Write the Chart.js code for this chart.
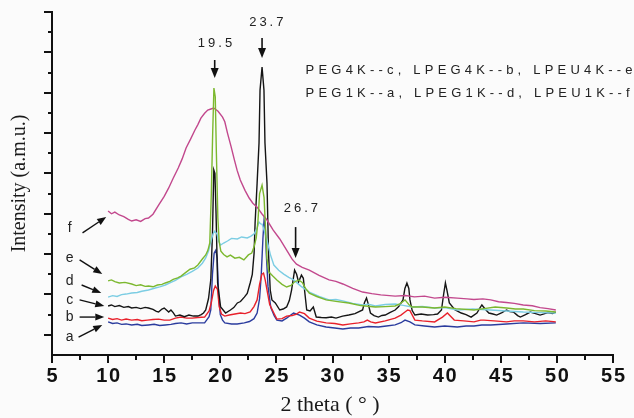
<!DOCTYPE html>
<html><head><meta charset="utf-8">
<script src="https://cdn.jsdelivr.net/npm/chart.js@4.4.1/dist/chart.umd.min.js"></script>
<style>html,body{margin:0;padding:0;background:#fbfbfb;}canvas{display:block;}</style>
</head><body>
<canvas id="c" width="634" height="418"></canvas>
<script>
// ---- axis ranges / ticks ----
const X_MIN = 5, X_MAX = 55, X_STEP = 5, X_MINOR = 2.5;
const Y_MIN = 0, Y_MAX = 170, Y_STEP = 10;

// ---- series data: [2theta, intensity] ----
const seriesF = [[10.0,71.4],[10.3,70.0],[10.6,70.8],[11.0,69.4],[11.4,68.6],[11.8,67.2],[12.1,66.4],[12.5,67.0],[12.9,66.2],[13.3,67.6],[13.6,67.9],[14.0,69.8],[14.5,74.3],[15.0,78.6],[15.4,82.8],[15.8,87.6],[16.25,92.7],[16.6,97.2],[16.95,102.6],[17.35,107.0],[17.74,111.5],[18.0,114.2],[18.27,117.4],[18.6,119.8],[18.88,121.4],[19.1,121.8],[19.41,122.4],[19.8,120.8],[20.2,117.9],[20.4,115.6],[20.64,110.0],[20.95,103.5],[21.26,96.6],[21.5,91.5],[21.78,86.7],[22.2,81.6],[22.57,77.8],[22.9,75.2],[23.28,73.3],[23.7,70.0],[24.16,66.9],[24.7,62.0],[25.3,57.5],[25.91,52.0],[26.4,47.5],[26.79,45.0],[27.3,43.4],[27.93,42.1],[28.8,39.5],[29.69,37.2],[30.3,36.5],[30.92,35.2],[31.8,33.0],[32.68,31.2],[33.5,30.4],[34.3,29.8],[35.58,29.2],[36.5,29.5],[37.3,28.8],[38.2,29.2],[39.1,28.2],[40.0,28.6],[41.12,28.2],[42.0,27.8],[42.6,27.5],[43.4,27.8],[44.1,27.3],[44.8,26.4],[45.5,26.0],[46.2,25.6],[47.0,24.8],[47.8,24.4],[48.5,23.5],[49.2,23.0],[49.9,22.3]];
const seriesE = [[10.0,36.7],[10.3,37.2],[10.6,36.4],[11.0,35.7],[11.5,36.0],[12.1,35.2],[12.5,34.4],[12.9,34.8],[13.3,34.0],[13.6,34.2],[14.0,33.8],[14.4,34.7],[14.8,35.0],[15.1,35.7],[15.5,36.5],[15.8,37.5],[16.2,38.2],[16.5,39.1],[16.9,40.8],[17.3,42.5],[17.7,43.2],[18.0,44.6],[18.4,47.6],[18.7,49.6],[18.9,52.0],[19.06,55.5],[19.2,80.0],[19.32,110.0],[19.43,132.3],[19.55,128.0],[19.65,100.0],[19.78,68.0],[19.9,56.0],[20.05,51.5],[20.3,49.8],[20.6,48.6],[20.9,49.5],[21.3,48.0],[21.7,48.4],[22.1,47.1],[22.5,49.6],[22.8,50.5],[23.0,53.5],[23.2,58.0],[23.35,66.0],[23.5,80.0],[23.72,84.2],[23.9,78.0],[24.0,66.0],[24.15,48.0],[24.33,41.1],[24.7,39.0],[25.04,37.2],[25.5,35.0],[25.91,33.7],[26.3,34.5],[26.6,36.2],[27.0,37.2],[27.3,36.0],[27.6,33.0],[27.93,30.7],[28.6,29.0],[29.43,27.3],[30.3,26.6],[31.45,25.8],[32.5,24.5],[33.82,23.8],[34.7,24.0],[35.58,24.3],[36.0,25.3],[36.46,27.3],[36.8,25.0],[37.07,23.8],[38.0,23.8],[39.1,23.3],[40.0,23.8],[41.0,23.0],[42.61,22.3],[43.5,23.0],[44.5,23.8],[45.51,23.3],[46.3,22.8],[47.0,22.8],[48.0,22.0],[49.0,21.8],[49.9,21.3]];
const seriesD = [[10.0,28.7],[10.4,29.4],[10.8,29.0],[11.2,29.9],[11.6,30.2],[12.1,30.7],[12.6,31.0],[13.0,31.6],[13.6,32.2],[14.2,33.2],[14.6,33.8],[15.1,34.7],[15.6,36.0],[16.0,37.0],[16.5,38.7],[17.0,40.0],[17.5,41.5],[18.0,43.1],[18.4,45.5],[18.7,48.1],[18.95,51.5],[19.15,56.0],[19.35,60.0],[19.5,61.4],[19.7,60.0],[19.85,56.5],[20.03,54.5],[20.3,55.5],[20.64,56.5],[21.0,57.8],[21.52,57.5],[21.9,58.5],[22.4,58.0],[22.7,58.8],[23.01,60.0],[23.25,62.5],[23.45,65.9],[23.6,65.0],[23.72,64.9],[23.9,62.0],[24.16,57.0],[24.45,50.0],[24.77,44.6],[25.2,42.0],[25.65,40.1],[26.1,38.5],[26.53,37.2],[27.2,34.0],[27.93,31.2],[28.8,29.0],[29.69,27.3],[30.3,27.5],[30.92,26.8],[31.8,25.6],[32.68,24.8],[33.2,25.2],[33.82,24.3],[34.7,25.0],[35.58,25.3],[36.3,24.6],[37.07,23.8],[38.0,24.0],[39.1,23.3],[40.0,23.5],[41.12,22.3],[42.5,22.8],[44.1,22.3],[45.5,21.8],[47.0,21.3],[48.5,21.0],[49.9,20.8]];
const seriesC = [[10.0,24.3],[10.3,24.8],[10.6,24.0],[11.0,24.5],[11.4,23.6],[11.8,24.0],[12.1,23.3],[12.5,23.6],[12.9,23.0],[13.3,23.6],[13.6,23.3],[14.0,22.6],[14.3,21.6],[14.5,21.3],[14.8,22.8],[15.0,23.3],[15.2,22.3],[15.4,21.3],[15.6,22.3],[15.8,21.0],[16.0,19.3],[16.4,19.8],[16.8,19.0],[17.2,19.8],[17.6,19.3],[18.0,19.3],[18.3,20.0],[18.5,20.8],[18.7,22.3],[18.95,28.0],[19.15,37.2],[19.3,60.0],[19.42,91.7],[19.52,90.0],[19.62,70.0],[19.76,35.7],[20.03,23.8],[20.47,20.8],[20.9,22.3],[21.2,23.5],[21.52,25.8],[21.8,26.5],[22.14,28.7],[22.4,30.5],[22.66,35.7],[22.85,40.0],[23.01,50.5],[23.1,65.4],[23.28,85.2],[23.45,105.1],[23.54,131.3],[23.72,142.7],[23.89,131.3],[23.98,105.1],[24.16,85.2],[24.3,50.0],[24.45,32.2],[24.6,27.3],[24.9,25.8],[25.3,22.3],[25.6,22.8],[25.91,23.8],[26.15,27.0],[26.35,32.2],[26.62,42.1],[26.8,40.0],[26.97,36.2],[27.23,39.6],[27.4,38.0],[27.55,30.0],[27.7,22.3],[28.0,21.8],[28.29,23.8],[28.55,18.8],[29.0,18.6],[29.43,18.5],[29.9,18.8],[30.31,18.3],[30.9,19.3],[31.45,19.8],[32.0,20.5],[32.68,22.3],[32.85,26.0],[33.03,28.2],[33.2,25.0],[33.38,20.8],[33.7,19.5],[34.09,18.8],[34.4,19.6],[34.7,19.8],[35.1,21.0],[35.58,22.3],[35.9,24.0],[36.28,27.3],[36.45,33.0],[36.63,35.7],[36.8,33.0],[36.9,27.3],[37.1,22.0],[37.34,19.8],[37.9,20.3],[38.48,19.8],[39.0,20.0],[39.36,20.3],[39.71,22.3],[39.9,30.0],[40.06,35.7],[40.2,32.0],[40.41,25.8],[40.9,22.5],[41.47,20.8],[41.9,20.0],[42.35,18.8],[42.87,20.8],[43.1,23.0],[43.31,24.8],[43.6,22.8],[43.93,20.8],[44.3,20.3],[44.63,19.8],[45.1,21.0],[45.51,22.3],[45.8,21.5],[46.12,21.3],[46.5,19.5],[46.74,18.8],[47.2,20.0],[47.62,21.3],[48.1,20.5],[48.5,19.8],[49.2,21.0],[49.6,20.5],[49.9,21.3]];
const seriesB = [[10.0,18.3],[10.4,17.6],[10.8,18.0],[11.2,17.3],[11.6,17.8],[12.1,17.3],[12.6,17.6],[13.0,17.0],[13.5,17.3],[14.0,17.6],[14.5,17.8],[15.0,17.3],[15.5,17.3],[16.0,18.3],[16.5,18.8],[17.0,18.3],[17.5,18.3],[18.0,18.6],[18.6,18.8],[19.0,21.8],[19.2,26.0],[19.4,32.0],[19.55,34.2],[19.75,32.5],[19.9,24.0],[20.1,20.3],[20.4,19.3],[20.8,19.8],[21.3,20.3],[21.8,20.8],[22.2,20.5],[22.66,21.3],[23.0,24.0],[23.28,27.3],[23.5,35.0],[23.7,40.0],[23.85,40.6],[24.0,37.2],[24.2,31.0],[24.4,25.0],[24.77,20.8],[25.04,17.8],[25.5,18.0],[25.91,19.3],[26.4,19.6],[26.79,20.3],[27.06,21.3],[27.5,20.5],[27.93,18.3],[28.6,16.8],[29.43,15.9],[30.2,15.6],[30.92,14.9],[31.6,15.4],[32.33,15.9],[32.8,16.4],[33.1,17.3],[33.4,16.4],[33.82,15.9],[34.7,16.9],[35.58,18.3],[36.1,19.8],[36.46,21.3],[36.7,22.3],[36.9,22.0],[37.34,17.3],[38.0,16.9],[39.1,16.4],[39.36,17.3],[39.8,18.8],[40.24,20.8],[40.5,19.3],[40.85,17.3],[41.7,16.9],[42.61,16.4],[43.2,17.3],[43.49,17.3],[44.4,16.9],[45.51,16.4],[46.2,16.9],[47.0,16.9],[48.0,16.4],[49.0,16.9],[49.9,16.4]];
const seriesA = [[10.0,16.4],[10.4,15.6],[10.8,15.9],[11.2,15.2],[11.6,15.4],[12.1,14.9],[12.6,15.2],[13.0,14.6],[13.6,14.9],[14.1,15.2],[14.6,14.6],[15.1,14.9],[15.6,15.2],[16.0,15.6],[16.5,15.9],[17.0,15.4],[17.5,15.9],[18.0,15.9],[18.6,15.9],[19.0,19.0],[19.15,22.3],[19.3,40.0],[19.45,50.5],[19.6,52.0],[19.72,48.0],[19.85,30.0],[20.0,20.0],[20.2,17.3],[20.4,15.9],[21.0,15.4],[21.5,15.4],[22.14,15.9],[22.6,16.6],[23.0,18.0],[23.28,20.8],[23.5,28.0],[23.65,40.0],[23.8,58.0],[23.9,66.9],[24.0,64.0],[24.1,50.0],[24.25,34.0],[24.5,23.5],[24.8,19.5],[25.04,17.3],[25.5,16.9],[25.91,18.3],[26.53,20.8],[27.06,19.8],[27.5,18.3],[27.93,16.4],[28.6,14.9],[29.43,13.9],[30.2,13.4],[30.92,12.9],[31.6,13.4],[32.33,13.4],[33.2,14.1],[34.09,13.9],[34.8,14.4],[35.58,14.9],[36.1,16.0],[36.46,17.3],[36.9,16.4],[37.34,14.9],[38.2,14.4],[39.1,13.9],[40.0,14.4],[41.12,13.9],[41.9,14.4],[42.61,14.4],[43.3,14.9],[44.1,14.9],[45.5,15.4],[47.0,15.9],[48.5,15.6],[49.9,15.9]];

// ---- texts ----
const xTitle = '2 theta ( \u00b0 )';
const yTitle = 'Intensity (a.m.u.)';
const legendLines = ['PEG4K--c, LPEG4K--b, LPEU4K--e', 'PEG1K--a, LPEG1K--d, LPEU1K--f'];
const peakLabels = ['19.5', '23.7', '26.7'];
const curveLetters = ['f', 'e', 'd', 'c', 'b', 'a'];

// ---- annotation placement (data units) ----
const peakLabelPos = [[18.0,154.6],[22.57,165.0],[25.65,72.8]];
const peakArrows = [[19.5,146.2,137.3],[23.72,157.1,147.2],[26.71,63.4,48.1]];
const legendPos = [[27.6,141.2],[27.6,129.8]];
const letterPos = [[6.58,62.9],[6.58,48.1],[6.58,36.7],[6.58,27.3],[6.58,18.8],[6.58,8.9]];
const letterArrows = [[7.72,60.5,9.83,68.4],[7.46,47.1,9.48,40.1],[7.64,34.7,9.39,30.7],[7.46,27.3,9.66,24.3],[7.46,18.8,9.66,18.8],[7.37,8.9,9.48,14.9]];

const toXY = s => s.map(p => ({x: p[0], y: p[1]}));

function arrow(ctx, x1, y1, x2, y2, head, half) {
  const a = Math.atan2(y2 - y1, x2 - x1);
  const bx = x2 - head * Math.cos(a), by = y2 - head * Math.sin(a);
  ctx.beginPath(); ctx.moveTo(x1, y1); ctx.lineTo(bx, by); ctx.stroke();
  ctx.beginPath();
  ctx.moveTo(x2, y2);
  ctx.lineTo(bx + half * Math.sin(a), by - half * Math.cos(a));
  ctx.lineTo(bx - half * Math.sin(a), by + half * Math.cos(a));
  ctx.closePath(); ctx.fill();
}

const decor = {
  id: 'decor',
  beforeDraw(chart) {
    const c = chart.ctx; c.save(); c.fillStyle = '#fbfbfb'; c.fillRect(0, 0, chart.width, chart.height); c.restore();
  },
  afterDraw(chart) {
    const {ctx, scales: {x, y}} = chart;
    const X = v => x.getPixelForValue(v), Y = v => y.getPixelForValue(v);
    ctx.save();
    ctx.strokeStyle = '#111'; ctx.fillStyle = '#111'; ctx.lineWidth = 2;
    for (let v = X_MIN; v <= X_MAX + 1e-9; v += X_MINOR) {
      const p = Math.round(X(v));
      const L = (Math.abs(v % X_STEP) < 1e-9) ? 8 : 5;
      ctx.beginPath(); ctx.moveTo(p, y.bottom); ctx.lineTo(p, y.bottom + L); ctx.stroke();
    }
    for (let v = Y_MIN + Y_STEP; v <= Y_MAX + 1e-9; v += Y_STEP) {
      const p = Math.round(Y(v));
      const L = (Math.round(v / Y_STEP) % 2 === 1) ? 8 : 4;
      ctx.beginPath(); ctx.moveTo(x.left - L, p); ctx.lineTo(x.left, p); ctx.stroke();
    }
    ctx.fillStyle = '#1a1a1a';
    ctx.font = '20px "Liberation Serif", "Times New Roman", serif';
    ctx.textAlign = 'center'; ctx.textBaseline = 'middle';
    ctx.save(); ctx.translate(20, (y.top + y.bottom) / 2); ctx.rotate(-Math.PI / 2); ctx.fillText(yTitle, 0, 0); ctx.restore();
    ctx.font = '22px "Liberation Serif", "Times New Roman", serif';
    ctx.fillText(xTitle, 330, 405);
    ctx.font = '13px "Liberation Sans", Arial, sans-serif';
    ctx.textAlign = 'left';
    ctx.letterSpacing = '3px';
    ctx.fillStyle = '#222';
    peakLabels.forEach((t, i) => ctx.fillText(t, X(peakLabelPos[i][0]), Y(peakLabelPos[i][1])));
    ctx.lineWidth = 1.6; ctx.fillStyle = '#111';
    peakArrows.forEach(a => arrow(ctx, X(a[0]), Y(a[1]), X(a[0]), Y(a[2]), 10, 4));
    ctx.letterSpacing = '4.2px'; ctx.fillStyle = '#222';
    legendLines.forEach((t, i) => ctx.fillText(t, X(legendPos[i][0]), Y(legendPos[i][1])));
    ctx.letterSpacing = '0px';
    ctx.font = '14px "Liberation Sans", Arial, sans-serif';
    ctx.textAlign = 'center';
    curveLetters.forEach((t, i) => ctx.fillText(t, X(letterPos[i][0]), Y(letterPos[i][1])));
    ctx.lineWidth = 1.4; ctx.fillStyle = '#111';
    letterArrows.forEach(a => arrow(ctx, X(a[0]), Y(a[1]), X(a[2]), Y(a[3]), 9, 3.5));
    ctx.restore();
  }
};

const mk = (label, data, color) => ({label, data: toXY(data), borderColor: color, borderWidth: 1.4, pointRadius: 0, fill: false, tension: 0});

new Chart(document.getElementById('c'), {
  type: 'line',
  data: {
    datasets: [
      mk('e', seriesE, '#7cb82f'),
      mk('d', seriesD, '#7ccde3'),
      mk('f', seriesF, '#c2488d'),
      mk('c', seriesC, '#151515'),
      mk('b', seriesB, '#e8212b'),
      mk('a', seriesA, '#2b3c9e')
    ]
  },
  options: {
    responsive: false, animation: false, devicePixelRatio: 1,
    layout: {padding: {top: 12, right: 13, left: 0, bottom: 0}},
    plugins: {legend: {display: false}, tooltip: {enabled: false}},
    scales: {
      x: {
        type: 'linear', min: X_MIN, max: X_MAX,
        grid: {display: false, drawTicks: false},
        border: {display: true, color: '#111', width: 2},
        ticks: {stepSize: X_STEP, padding: 9, color: '#111', maxRotation: 0,
          font: {family: '"Liberation Sans", Arial, sans-serif', size: 20, weight: 'bold'},
          callback: v => String(v).split('').join('\u200A')},
        afterFit: s => { s.height = 63; }
      },
      y: {
        min: Y_MIN, max: Y_MAX,
        grid: {display: false, drawTicks: false},
        border: {display: true, color: '#111', width: 2},
        ticks: {display: false, stepSize: Y_STEP},
        afterFit: s => { s.width = 52; }
      }
    }
  },
  plugins: [decor]
});
</script>
</body></html>
